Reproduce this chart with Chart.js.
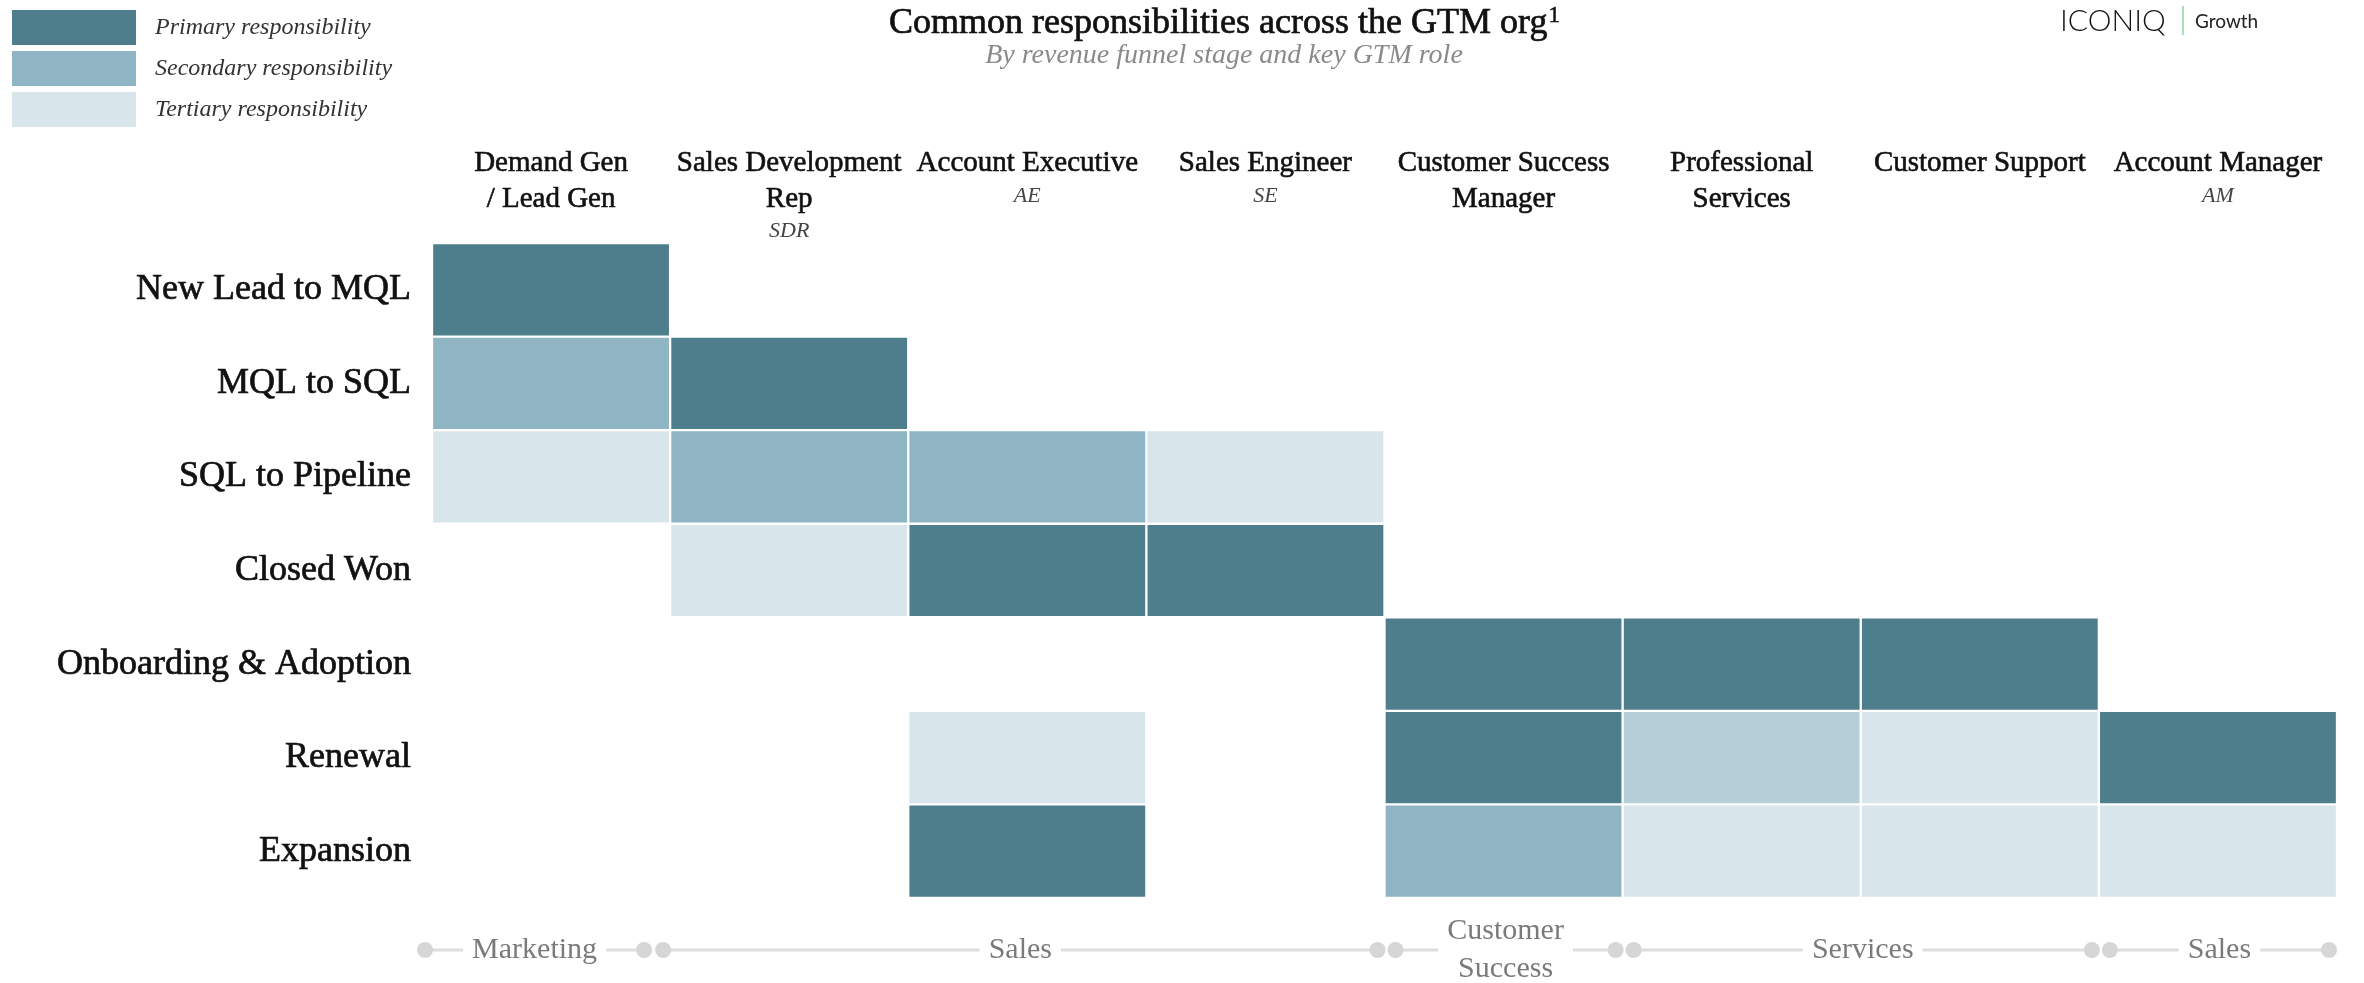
<!DOCTYPE html>
<html>
<head>
<meta charset="utf-8">
<script src="https://cdn.jsdelivr.net/npm/chart.js@4/dist/chart.umd.min.js"></script>
<style>
  html, body { margin: 0; padding: 0; background: #fff; }
  #wrap { width: 2364px; height: 983px; position: relative; }
</style>
</head>
<body>
<div id="wrap"><canvas id="gtm" width="2364" height="983"></canvas></div>
<script>
// Funnel stages (rows) and GTM roles (columns)
const stages = ['New Lead to MQL', 'MQL to SQL', 'SQL to Pipeline', 'Closed Won',
                'Onboarding & Adoption', 'Renewal', 'Expansion'];
const roles = [['Demand Gen', '/ Lead Gen'], ['Sales Development', 'Rep'], ['Account Executive'],
               ['Sales Engineer'], ['Customer Success', 'Manager'], ['Professional', 'Services'],
               ['Customer Support'], ['Account Manager']];
const roleAbbrev = ['', 'SDR', 'AE', 'SE', '', '', '', 'AM'];

// Responsibility level per role: 3 primary, 2 secondary, 1.5 shared secondary, 1 tertiary, 0 none
const newLeadToMql   = [3, 0, 0, 0, 0, 0,   0, 0];
const mqlToSql       = [2, 3, 0, 0, 0, 0,   0, 0];
const sqlToPipeline  = [1, 2, 2, 1, 0, 0,   0, 0];
const closedWon      = [0, 1, 3, 3, 0, 0,   0, 0];
const onboarding     = [0, 0, 0, 0, 3, 3,   3, 0];
const renewal        = [0, 0, 1, 0, 3, 1.5, 1, 3];
const expansion      = [0, 0, 3, 0, 2, 1,   1, 1];
const stageRows = [newLeadToMql, mqlToSql, sqlToPipeline, closedWon, onboarding, renewal, expansion];

// Legend levels
const levelValues = [3, 2, 1.5, 1];
const levelNames  = ['Primary responsibility', 'Secondary responsibility', '', 'Tertiary responsibility'];
const levelColors = ['#4e7d8b', '#8fb4c3', '#b5ced7', '#d8e5ea'];

// Function groups along the bottom
const groupLabels = [['Marketing'], ['Sales'], ['Customer', 'Success'], ['Services'], ['Sales']];
const groupStart  = [0, 1, 4, 5, 7];
const groupEnd    = [1, 4, 5, 7, 8];

const SERIF = '"Liberation Serif", "DejaVu Serif", serif';

// One bar dataset per responsibility level; each cell is a floating bar [col, col+1]
const datasets = levelValues.map((lv, i) => {
  const data = [];
  stageRows.forEach((row, r) => {
    row.forEach((v, c) => {
      if (v === lv) data.push({ x: [c, c + 1], y: stages[r] });
    });
  });
  return { label: levelNames[i], data, backgroundColor: levelColors[i] };
});

// Fill text with a hairline stroke so the serif reads a little heavier
function heavyText(ctx, t, x, y, w) {
  ctx.lineWidth = w;
  ctx.strokeStyle = ctx.fillStyle;
  ctx.strokeText(t, x, y);
  ctx.fillText(t, x, y);
}

const decor = {
  id: 'decor',
  afterDraw(chart) {
    const ctx = chart.ctx;
    const xs = chart.scales.x;
    ctx.save();

    // Title with footnote marker
    const title = 'Common responsibilities across the GTM org';
    ctx.font = '36px ' + SERIF;
    const tw = ctx.measureText(title).width;
    ctx.font = '23px ' + SERIF;
    const sw = ctx.measureText('1').width;
    const tx = 1224 - (tw + sw) / 2;
    ctx.fillStyle = '#111';
    ctx.textBaseline = 'alphabetic';
    ctx.textAlign = 'left';
    ctx.font = '36px ' + SERIF;
    heavyText(ctx, title, tx, 33, 0.7);
    ctx.font = '23px ' + SERIF;
    heavyText(ctx, '1', tx + tw + 1, 22, 0.5);

    ctx.textAlign = 'center';
    ctx.fillStyle = '#8a8a8a';
    ctx.font = 'italic 28px ' + SERIF;
    ctx.fillText('By revenue funnel stage and key GTM role', 1224, 63);

    // Brand mark
    ctx.textAlign = 'left';
    ctx.fillStyle = '#151515';
    ctx.font = '300 30px Lato, "Open Sans", sans-serif';
    ctx.fillText('ICONIQ', 2060, 31);
    ctx.strokeStyle = '#8fd0a5';
    ctx.lineWidth = 1.5;
    ctx.beginPath(); ctx.moveTo(2183, 6); ctx.lineTo(2183, 35); ctx.stroke();
    ctx.fillStyle = '#222';
    ctx.font = '19px Lato, "Open Sans", sans-serif';
    ctx.fillText('Growth', 2195, 28);

    // Legend
    let ly = 10;
    chart.data.datasets.forEach(ds => {
      if (!ds.label) return;
      ctx.fillStyle = ds.backgroundColor;
      ctx.fillRect(12, ly, 124, 35);
      ctx.fillStyle = '#333';
      ctx.font = 'italic 24px ' + SERIF;
      ctx.textBaseline = 'middle';
      ctx.fillText(ds.label, 155, ly + 18);
      ly += 41;
    });

    // Column headers
    ctx.textAlign = 'center';
    ctx.textBaseline = 'middle';
    roles.forEach((lines, c) => {
      const x = xs.getPixelForValue(c + 0.5);
      ctx.fillStyle = '#111';
      ctx.font = '29px ' + SERIF;
      lines.forEach((t, k) => heavyText(ctx, t, x, 163 + k * 36, 0.6));
      if (roleAbbrev[c]) {
        ctx.fillStyle = '#444';
        ctx.font = 'italic 22px ' + SERIF;
        ctx.fillText(roleAbbrev[c], x, lines.length > 1 ? 231 : 196);
      }
    });

    // Function group brackets: end dots sit just inside each span,
    // the first boundary is pulled left to clear the Marketing label
    const by = 950;
    const last = roles.length;
    groupLabels.forEach((lines, g) => {
      const s = groupStart[g], e = groupEnd[g];
      const xl = xs.getPixelForValue(s) + (s === 0 || s === 1 ? -7 : 11);
      const xr = xs.getPixelForValue(e) - (e === 1 ? 26 : (e === last ? 8 : 7));
      const cx = (xl + xr) / 2;
      ctx.font = '30px ' + SERIF;
      const w = Math.max(...lines.map(t => ctx.measureText(t).width));
      ctx.strokeStyle = '#dedede';
      ctx.lineWidth = 3;
      ctx.beginPath();
      ctx.moveTo(xl, by); ctx.lineTo(cx - w / 2 - 9, by);
      ctx.moveTo(cx + w / 2 + 9, by); ctx.lineTo(xr, by);
      ctx.stroke();
      ctx.fillStyle = '#d6d6d6';
      [xl, xr].forEach(px => { ctx.beginPath(); ctx.arc(px, by, 8, 0, Math.PI * 2); ctx.fill(); });
      ctx.fillStyle = '#7a7a7a';
      const lh = 38;
      lines.forEach((t, k) => ctx.fillText(t, cx, by + (k - (lines.length - 1) / 2) * lh));
    });
    ctx.restore();
  }
};

new Chart(document.getElementById('gtm'), {
  type: 'bar',
  data: { labels: stages, datasets },
  options: {
    indexAxis: 'y',
    responsive: false,
    animation: false,
    layout: { padding: { left: 0, right: 27, top: 243, bottom: 85 } },
    datasets: {
      bar: {
        categoryPercentage: 1, barPercentage: 1, grouped: false,
        borderWidth: 1.5, borderColor: '#ffffff', borderSkipped: false
      }
    },
    scales: {
      x: { type: 'linear', min: 0, max: roles.length, display: false },
      y: {
        type: 'category', offset: true,
        grid: { display: false }, border: { display: false },
        ticks: {
          font: { family: SERIF, size: 36 }, color: '#111', padding: 13,
          textStrokeColor: '#111', textStrokeWidth: 0.7
        },
        afterFit(scale) { scale.width = 432; }
      }
    },
    plugins: { legend: { display: false }, tooltip: { enabled: false } }
  },
  plugins: [decor]
});
</script>
</body>
</html>
